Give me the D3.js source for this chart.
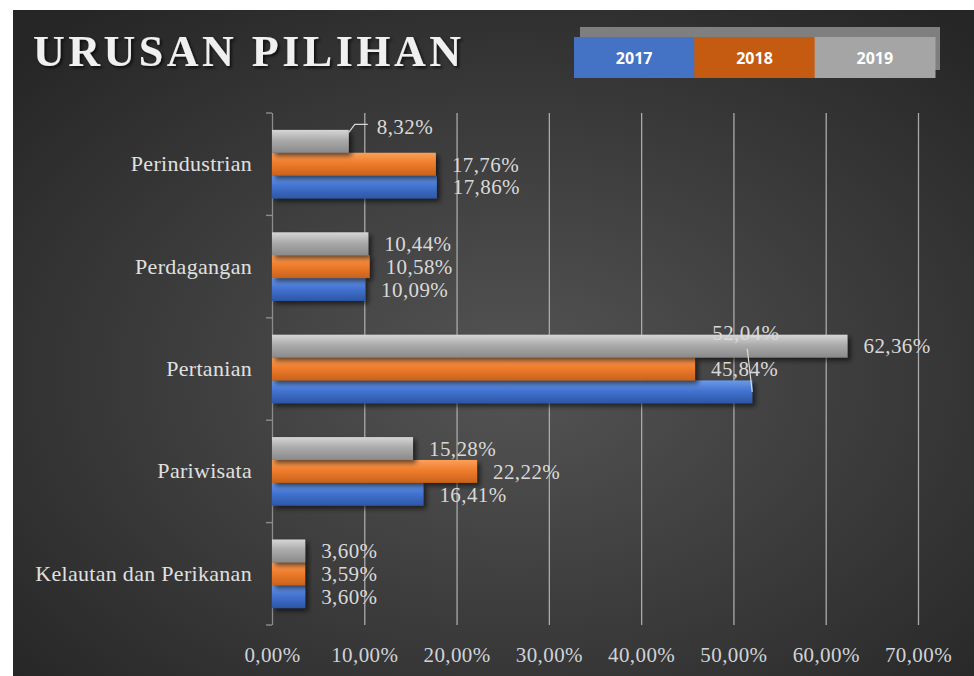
<!DOCTYPE html>
<html>
<head>
<meta charset="utf-8">
<script src="https://cdn.jsdelivr.net/npm/d3@7"></script>
<style>
body{margin:0;background:#fff;}
svg{display:block;}
</style>
</head>
<body>
<div id="chart"></div>
<script>
var width = 974,
height = 676;

// data
var categories = ["Perindustrian","Perdagangan","Pertanian","Pariwisata","Kelautan dan Perikanan"];
var years = ["2017","2018","2019"];
var v2017 = [17.86,10.09,52.04,16.41,3.60];
var v2018 = [17.76,10.58,45.84,22.22,3.59];
var v2019 = [8.32,10.44,62.36,15.28,3.60];
var xTicks = [0,10,20,30,40,50,60,70];

var series = {"2017":v2017,"2018":v2018,"2019":v2019};
var colors = {
	"2017":["#6a9ae8","#4474d2","#2c56a6"],
	"2018":["#fba05a","#f07d2c","#c9621b"],
	"2019":["#d6d6d6","#ababab","#8a8a8a"]
};
var legendCol = {"2017":"#4472c4","2018":"#c55a11","2019":"#a5a5a5"};

// labels dragged away from bar ends (excel style)
var moved = {
	"Perindustrian|2019":{dx:28,dy:-15},
	"Pertanian|2017":{dx:-40,dy:-59}
};

var svg = d3.select("#chart").append("svg")
	.attr("width",width)
	.attr("height",height);

var defs = svg.append("defs");
var bg = defs.append("radialGradient").attr("id","bg")
	.attr("cx","52%").attr("cy","55%").attr("r","70%");
bg.append("stop").attr("offset","0%").attr("stop-color","#545454");
bg.append("stop").attr("offset","100%").attr("stop-color","#262626");

years.forEach(function(y){
	var g = defs.append("linearGradient").attr("id","g"+y)
		.attr("x1",0).attr("y1",0).attr("x2",0).attr("y2",1);
	g.append("stop").attr("offset","0%").attr("stop-color",colors[y][0]);
	g.append("stop").attr("offset","45%").attr("stop-color",colors[y][1]);
	g.append("stop").attr("offset","100%").attr("stop-color",colors[y][2]);
});

var sh = defs.append("filter").attr("id","shadow")
	.attr("x","-10%").attr("y","-30%").attr("width","130%").attr("height","180%");
sh.append("feDropShadow").attr("dx",3).attr("dy",3).attr("stdDeviation",2.5)
	.attr("flood-color","#000").attr("flood-opacity",0.6);

var tsh = defs.append("filter").attr("id","tshadow");
tsh.append("feDropShadow").attr("dx",2).attr("dy",2).attr("stdDeviation",1.5)
	.attr("flood-color","#000").attr("flood-opacity",0.7);

svg.append("rect")
	.attr("x",13).attr("y",10)
	.attr("width",width-13).attr("height",height-10)
	.attr("fill","url(#bg)");

// title
svg.append("text")
	.attr("x",33).attr("y",66)
	.attr("font-family","Liberation Serif, serif")
	.attr("font-size",44)
	.attr("font-weight","bold")
	.attr("letter-spacing",3.5)
	.attr("fill","#f0f0f0")
	.attr("filter","url(#tshadow)")
	.text("URUSAN PILIHAN");

// legend
svg.append("rect").attr("x",580).attr("y",27).attr("width",360).attr("height",43).attr("fill","#7f7f7f");
var lx = d3.scaleBand().domain(years).range([574,935]);
var leg = svg.selectAll(".leg").data(years).enter().append("g").attr("class","leg");
leg.append("rect")
	.attr("x",function(d){return lx(d);})
	.attr("y",37)
	.attr("width",lx.bandwidth()+0.5)
	.attr("height",41)
	.attr("fill",function(d){return legendCol[d];});
leg.append("text")
	.attr("x",function(d){return lx(d)+lx.bandwidth()/2;})
	.attr("y",64)
	.attr("text-anchor","middle")
	.attr("font-family","Open Sans, sans-serif")
	.attr("font-weight","bold")
	.attr("font-size",16)
	.attr("fill","#ffffff")
	.text(function(d){return d;});

// scales
var x = d3.scaleLinear().domain([0,70]).range([272,918]);
var y = d3.scaleBand().domain(categories).range([113,625]).paddingInner(0.33).paddingOuter(0.165);
var yIn = d3.scaleBand().domain(["2019","2018","2017"]).range([0,y.bandwidth()]);

// grid + x axis
var xAxis = svg.append("g")
	.attr("transform","translate(0,625)")
	.call(d3.axisBottom(x).tickValues(xTicks).tickSize(-512).tickPadding(22)
		.tickFormat(function(d){return d3.format(".2f")(d).replace(".",",")+"%";}));
xAxis.select(".domain").remove();
xAxis.selectAll(".tick line")
	.attr("stroke",function(d){return d==0 ? "#8c8c8c" : "#aaaaaa";})
	.attr("stroke-width",1.3);
xAxis.selectAll(".tick text")
	.attr("font-family","Liberation Serif, serif")
	.attr("font-size",21)
	.attr("letter-spacing",0.4)
	.attr("fill","#cfd3d8");

// y axis
var yAxis = svg.append("g")
	.attr("transform","translate(272,0)")
	.call(d3.axisLeft(y).tickSize(0).tickPadding(20));
yAxis.select(".domain").remove();
yAxis.selectAll(".tick text")
	.attr("font-family","Liberation Serif, serif")
	.attr("font-size",22)
	.attr("letter-spacing",0.3)
	.attr("fill","#e0e0e0");
var bounds = d3.range(categories.length+1).map(function(i){return 113 + i*y.step();});
svg.selectAll(".ytick").data(bounds).enter().append("line")
	.attr("x1",266).attr("x2",272)
	.attr("y1",function(d){return d;}).attr("y2",function(d){return d;})
	.attr("stroke","#8c8c8c").attr("stroke-width",1.4);

// bars
var rows = [];
categories.forEach(function(c,i){
	years.forEach(function(yr){
		rows.push({cat:c,year:yr,v:series[yr][i]});
	});
});

svg.append("g").selectAll("rect").data(rows).enter().append("rect")
	.attr("x",x(0))
	.attr("y",function(d){return y(d.cat)+yIn(d.year);})
	.attr("width",function(d){return x(d.v)-x(0);})
	.attr("height",yIn.bandwidth())
	.attr("fill",function(d){return "url(#g"+d.year+")";})
	.attr("filter","url(#shadow)");

// value labels
function labelPos(d){
	var cy = y(d.cat)+yIn(d.year)+yIn.bandwidth()/2;
	var m = moved[d.cat+"|"+d.year];
	if(m){
		return [x(d.v)+m.dx, cy+m.dy];
	}
	return [x(d.v)+16, cy];
}

rows.forEach(function(d){
	var m = moved[d.cat+"|"+d.year];
	if(!m) return;
	var cy = y(d.cat)+yIn(d.year)+yIn.bandwidth()/2;
	var p = labelPos(d);
	var pts;
	if(m.dx>0){
		pts = [[x(d.v),cy-9],[x(d.v)+6,p[1]-2],[p[0]-9,p[1]-2]];
	} else {
		pts = [[x(d.v),cy],[x(d.v)-5,p[1]+16]];
	}
	svg.append("path")
		.attr("d",d3.line()(pts))
		.attr("fill","none")
		.attr("stroke","#d9d9d9")
		.attr("stroke-width",1.2);
});

svg.append("g").selectAll("text").data(rows).enter().append("text")
	.attr("x",function(d){return labelPos(d)[0];})
	.attr("y",function(d){return labelPos(d)[1];})
	.attr("dy","0.35em")
	.attr("font-family","Liberation Serif, serif")
	.attr("font-size",21)
	.attr("letter-spacing",0.4)
	.attr("fill","#d9d9d9")
	.text(function(d){return d3.format(".2f")(d.v).replace(".",",")+"%";});
</script>
</body>
</html>
